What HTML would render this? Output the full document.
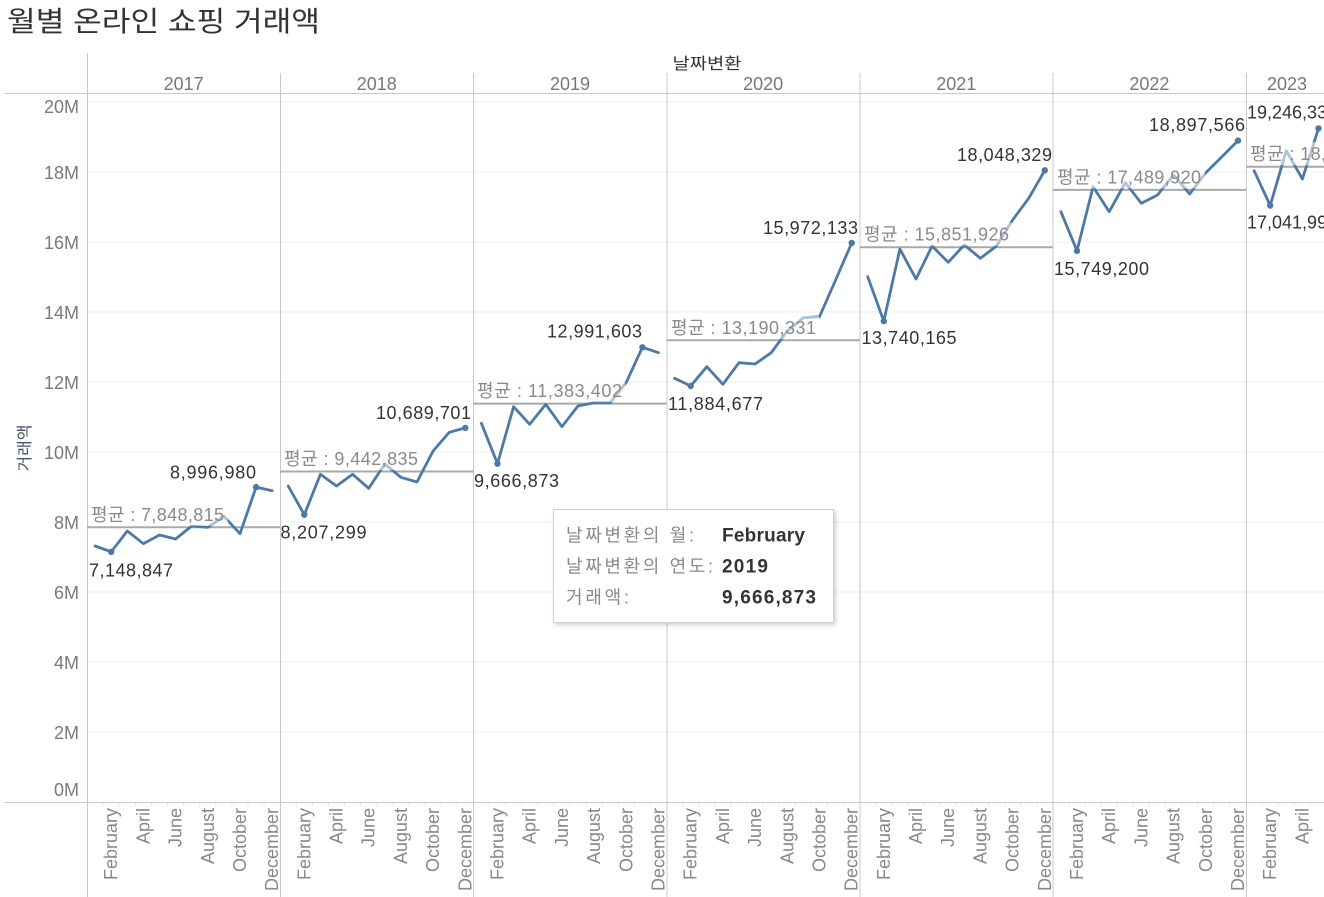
<!DOCTYPE html>
<html><head><meta charset="utf-8"><style>
html,body{margin:0;padding:0;background:#fff;}
svg{display:block;font-family:"Liberation Sans","Noto Sans CJK KR",sans-serif;}
</style></head><body>
<svg width="1324" height="897" viewBox="0 0 1324 897" xmlns="http://www.w3.org/2000/svg">
<defs>
<filter id="sh" x="-10%" y="-10%" width="130%" height="140%"><feDropShadow dx="2" dy="2" stdDeviation="2" flood-color="#000" flood-opacity="0.18"/></filter>
<clipPath id="plot"><rect x="87" y="94" width="1237" height="708"/></clipPath>
</defs>
<rect width="1324" height="897" fill="#fff"/>
<!-- title -->
<text x="7" y="31" font-size="28" fill="#333" textLength="313" lengthAdjust="spacingAndGlyphs">월별 온라인 쇼핑 거래액</text>
<text x="707" y="69" font-size="16" fill="#333" text-anchor="middle" textLength="69" lengthAdjust="spacingAndGlyphs">날짜변환</text>
<!-- gridlines -->
<g stroke="#efefef" stroke-width="1">
<line x1="87" x2="1324" y1="102" y2="102"/><line x1="87" x2="1324" y1="172" y2="172"/>
<line x1="87" x2="1324" y1="242" y2="242"/><line x1="87" x2="1324" y1="312" y2="312"/>
<line x1="87" x2="1324" y1="382" y2="382"/><line x1="87" x2="1324" y1="452" y2="452"/>
<line x1="87" x2="1324" y1="522" y2="522"/><line x1="87" x2="1324" y1="592" y2="592"/>
<line x1="87" x2="1324" y1="662" y2="662"/><line x1="87" x2="1324" y1="732" y2="732"/>
</g>
<!-- frame lines -->
<g stroke="#c8c8c8" stroke-width="1">
<line x1="4" x2="1324" y1="93.5" y2="93.5"/>
<line x1="4" x2="1324" y1="802.5" y2="802.5"/>
<line x1="87.5" x2="87.5" y1="53" y2="897"/>
<line x1="280.5" x2="280.5" y1="73" y2="897"/>
<line x1="473.5" x2="473.5" y1="73" y2="897"/>
<line x1="667" x2="667" y1="73" y2="897"/>
<line x1="860" x2="860" y1="73" y2="897"/>
<line x1="1053" x2="1053" y1="73" y2="897"/>
<line x1="1246.5" x2="1246.5" y1="73" y2="897"/>
</g>
<!-- small ticks -->
<g stroke="#e8e8e8" stroke-width="1">
<line x1="103.1" x2="103.1" y1="803" y2="807"/><line x1="119.2" x2="119.2" y1="803" y2="807"/><line x1="135.3" x2="135.3" y1="803" y2="807"/><line x1="151.4" x2="151.4" y1="803" y2="807"/><line x1="167.5" x2="167.5" y1="803" y2="807"/><line x1="183.6" x2="183.6" y1="803" y2="807"/><line x1="199.7" x2="199.7" y1="803" y2="807"/><line x1="215.8" x2="215.8" y1="803" y2="807"/><line x1="231.9" x2="231.9" y1="803" y2="807"/><line x1="248" x2="248" y1="803" y2="807"/><line x1="264.1" x2="264.1" y1="803" y2="807"/>
<line x1="296.3" x2="296.3" y1="803" y2="807"/><line x1="312.4" x2="312.4" y1="803" y2="807"/><line x1="328.5" x2="328.5" y1="803" y2="807"/><line x1="344.6" x2="344.6" y1="803" y2="807"/><line x1="360.7" x2="360.7" y1="803" y2="807"/><line x1="376.8" x2="376.8" y1="803" y2="807"/><line x1="392.9" x2="392.9" y1="803" y2="807"/><line x1="409" x2="409" y1="803" y2="807"/><line x1="425.1" x2="425.1" y1="803" y2="807"/><line x1="441.2" x2="441.2" y1="803" y2="807"/><line x1="457.3" x2="457.3" y1="803" y2="807"/>
<line x1="489.4" x2="489.4" y1="803" y2="807"/><line x1="505.5" x2="505.5" y1="803" y2="807"/><line x1="521.6" x2="521.6" y1="803" y2="807"/><line x1="537.7" x2="537.7" y1="803" y2="807"/><line x1="553.8" x2="553.8" y1="803" y2="807"/><line x1="569.9" x2="569.9" y1="803" y2="807"/><line x1="586" x2="586" y1="803" y2="807"/><line x1="602.1" x2="602.1" y1="803" y2="807"/><line x1="618.2" x2="618.2" y1="803" y2="807"/><line x1="634.3" x2="634.3" y1="803" y2="807"/><line x1="650.4" x2="650.4" y1="803" y2="807"/>
<line x1="682.6" x2="682.6" y1="803" y2="807"/><line x1="698.7" x2="698.7" y1="803" y2="807"/><line x1="714.8" x2="714.8" y1="803" y2="807"/><line x1="730.9" x2="730.9" y1="803" y2="807"/><line x1="747" x2="747" y1="803" y2="807"/><line x1="763.1" x2="763.1" y1="803" y2="807"/><line x1="779.2" x2="779.2" y1="803" y2="807"/><line x1="795.3" x2="795.3" y1="803" y2="807"/><line x1="811.4" x2="811.4" y1="803" y2="807"/><line x1="827.5" x2="827.5" y1="803" y2="807"/><line x1="843.6" x2="843.6" y1="803" y2="807"/>
<line x1="875.8" x2="875.8" y1="803" y2="807"/><line x1="891.9" x2="891.9" y1="803" y2="807"/><line x1="908" x2="908" y1="803" y2="807"/><line x1="924.1" x2="924.1" y1="803" y2="807"/><line x1="940.2" x2="940.2" y1="803" y2="807"/><line x1="956.3" x2="956.3" y1="803" y2="807"/><line x1="972.4" x2="972.4" y1="803" y2="807"/><line x1="988.5" x2="988.5" y1="803" y2="807"/><line x1="1004.6" x2="1004.6" y1="803" y2="807"/><line x1="1020.7" x2="1020.7" y1="803" y2="807"/><line x1="1036.8" x2="1036.8" y1="803" y2="807"/>
<line x1="1068.9" x2="1068.9" y1="803" y2="807"/><line x1="1085" x2="1085" y1="803" y2="807"/><line x1="1101.1" x2="1101.1" y1="803" y2="807"/><line x1="1117.2" x2="1117.2" y1="803" y2="807"/><line x1="1133.3" x2="1133.3" y1="803" y2="807"/><line x1="1149.4" x2="1149.4" y1="803" y2="807"/><line x1="1165.5" x2="1165.5" y1="803" y2="807"/><line x1="1181.6" x2="1181.6" y1="803" y2="807"/><line x1="1197.7" x2="1197.7" y1="803" y2="807"/><line x1="1213.8" x2="1213.8" y1="803" y2="807"/><line x1="1229.9" x2="1229.9" y1="803" y2="807"/>
<line x1="1262.1" x2="1262.1" y1="803" y2="807"/><line x1="1278.2" x2="1278.2" y1="803" y2="807"/><line x1="1294.3" x2="1294.3" y1="803" y2="807"/><line x1="1310.4" x2="1310.4" y1="803" y2="807"/>
</g>
<!-- y axis -->
<g font-size="18" fill="#7a7a7a" text-anchor="end">
<text x="79" y="113">20M</text><text x="79" y="179">18M</text><text x="79" y="249">16M</text>
<text x="79" y="319">14M</text><text x="79" y="389">12M</text><text x="79" y="459">10M</text>
<text x="79" y="529">8M</text><text x="79" y="599">6M</text><text x="79" y="669">4M</text>
<text x="79" y="739">2M</text><text x="79" y="796">0M</text>
</g>
<text transform="translate(30,448) rotate(-90)" font-size="16" fill="#44546a" text-anchor="middle" textLength="47" lengthAdjust="spacingAndGlyphs">거래액</text>
<!-- year headers -->
<g font-size="18" fill="#777" text-anchor="middle">
<text x="183.6" y="90">2017</text><text x="376.8" y="90">2018</text><text x="570" y="90">2019</text>
<text x="763.1" y="90">2020</text><text x="956.3" y="90">2021</text><text x="1149.4" y="90">2022</text>
<text x="1287" y="90">2023</text>
</g>
<!-- month labels -->
<g font-size="18" fill="#888" text-anchor="end">
<text transform="translate(117.2,808) rotate(-90)">February</text><text transform="translate(149.4,808) rotate(-90)">April</text><text transform="translate(181.6,808) rotate(-90)">June</text><text transform="translate(213.8,808) rotate(-90)">August</text><text transform="translate(246,808) rotate(-90)">October</text><text transform="translate(278.2,808) rotate(-90)">December</text>
<text transform="translate(310.3,808) rotate(-90)">February</text><text transform="translate(342.5,808) rotate(-90)">April</text><text transform="translate(374.7,808) rotate(-90)">June</text><text transform="translate(406.9,808) rotate(-90)">August</text><text transform="translate(439.1,808) rotate(-90)">October</text><text transform="translate(471.3,808) rotate(-90)">December</text>
<text transform="translate(503.5,808) rotate(-90)">February</text><text transform="translate(535.7,808) rotate(-90)">April</text><text transform="translate(567.9,808) rotate(-90)">June</text><text transform="translate(600.1,808) rotate(-90)">August</text><text transform="translate(632.3,808) rotate(-90)">October</text><text transform="translate(664.5,808) rotate(-90)">December</text>
<text transform="translate(696.7,808) rotate(-90)">February</text><text transform="translate(728.9,808) rotate(-90)">April</text><text transform="translate(761.1,808) rotate(-90)">June</text><text transform="translate(793.3,808) rotate(-90)">August</text><text transform="translate(825.5,808) rotate(-90)">October</text><text transform="translate(857.7,808) rotate(-90)">December</text>
<text transform="translate(889.8,808) rotate(-90)">February</text><text transform="translate(922,808) rotate(-90)">April</text><text transform="translate(954.2,808) rotate(-90)">June</text><text transform="translate(986.4,808) rotate(-90)">August</text><text transform="translate(1018.6,808) rotate(-90)">October</text><text transform="translate(1050.8,808) rotate(-90)">December</text>
<text transform="translate(1083,808) rotate(-90)">February</text><text transform="translate(1115.2,808) rotate(-90)">April</text><text transform="translate(1147.4,808) rotate(-90)">June</text><text transform="translate(1179.6,808) rotate(-90)">August</text><text transform="translate(1211.8,808) rotate(-90)">October</text><text transform="translate(1244,808) rotate(-90)">December</text>
<text transform="translate(1276.2,808) rotate(-90)">February</text><text transform="translate(1308.4,808) rotate(-90)">April</text>
</g>
<g clip-path="url(#plot)">
<!-- average lines -->
<g stroke="#a9a9a9" stroke-width="2">
<line x1="87" x2="280.2" y1="527.3" y2="527.3"/>
<line x1="280.2" x2="473.3" y1="471.5" y2="471.5"/>
<line x1="473.3" x2="666.5" y1="403.6" y2="403.6"/>
<line x1="666.5" x2="859.7" y1="340.3" y2="340.3"/>
<line x1="859.7" x2="1052.8" y1="247.2" y2="247.2"/>
<line x1="1052.8" x2="1246" y1="189.9" y2="189.9"/>
<line x1="1246" x2="1324" y1="166.7" y2="166.7"/>
</g>
<!-- data lines -->
<g fill="none" stroke="#4e79a7" stroke-width="2.8" stroke-linejoin="round" stroke-linecap="round">
<polyline points="95.1,546 111.2,551.8 127.3,531 143.4,543.7 159.5,535 175.6,539 191.7,526 207.8,527.3 223.9,516.3 240,533.7 256.1,487.1 272.2,490.7"/>
<polyline points="288.2,486 304.3,514.7 320.4,474.3 336.5,486 352.6,474.3 368.7,488.3 384.8,464 400.9,477.3 417,482 433.1,451 449.2,432.3 465.3,427.9"/>
<polyline points="481.4,423.3 497.5,463.7 513.6,406.7 529.7,424.3 545.8,404.3 561.9,426.7 578,406 594.1,402.7 610.2,402.7 626.3,382.3 642.4,347.3 658.5,352.7"/>
<polyline points="674.6,378.3 690.7,386 706.8,366.7 722.9,384.3 739,362.7 755.1,364 771.2,352.7 787.3,331 803.4,317.7 819.5,316.7 835.6,280 851.7,243"/>
<polyline points="867.7,276.7 883.8,321.1 899.9,249 916,279 932.1,246 948.2,262.3 964.3,245 980.4,258.3 996.5,246 1012.6,220 1028.7,198.3 1044.8,170.3"/>
<polyline points="1060.9,211.7 1077,250.8 1093.1,186.7 1109.2,211.7 1125.3,182.7 1141.4,203.3 1157.5,195 1173.6,175 1189.7,194 1205.8,172.7 1221.9,156.7 1238,140.6"/>
<polyline points="1254.1,170.7 1270.2,205.5 1286.3,150.7 1302.4,179 1318.5,128.4"/>
</g>
<g fill="#4e79a7">
<circle cx="111.2" cy="551.8" r="3.2"/><circle cx="256.1" cy="487.1" r="3.2"/>
<circle cx="304.3" cy="514.7" r="3.2"/><circle cx="465.3" cy="427.9" r="3.2"/>
<circle cx="497.5" cy="463.7" r="3.2"/><circle cx="642.4" cy="347.3" r="3.2"/>
<circle cx="690.7" cy="386" r="3.2"/><circle cx="851.7" cy="243" r="3.2"/>
<circle cx="883.8" cy="321.1" r="3.2"/><circle cx="1044.8" cy="170.3" r="3.2"/>
<circle cx="1077" cy="250.8" r="3.2"/><circle cx="1238" cy="140.6" r="3.2"/>
<circle cx="1270.2" cy="205.5" r="3.2"/><circle cx="1318.5" cy="128.4" r="3.2"/>
</g>
<!-- average label veils -->
<g fill="#fff" fill-opacity="0.55">
<rect x="89" y="502.8" width="139" height="23"/>
<rect x="282" y="447" width="139" height="23"/>
<rect x="475" y="379.1" width="150" height="23"/>
<rect x="669" y="315.8" width="150" height="23"/>
<rect x="862" y="222.7" width="150" height="23"/>
<rect x="1055" y="165.4" width="150" height="23"/>
<rect x="1248" y="142.2" width="150" height="23"/>
</g>
<g font-size="18" fill="#8a8a8a" lengthAdjust="spacingAndGlyphs">
<text x="91" y="520.8" textLength="133">평균 : 7,848,815</text>
<text x="284" y="465" textLength="134">평균 : 9,442,835</text>
<text x="477" y="397.1" textLength="145">평균 : 11,383,402</text>
<text x="671" y="333.8" textLength="145">평균 : 13,190,331</text>
<text x="864" y="240.7" textLength="145">평균 : 15,851,926</text>
<text x="1057" y="183.4" textLength="144">평균 : 17,489,920</text>
<text x="1250" y="160.2" textLength="144">평균 : 18,170,000</text>
</g>
</g>
<!-- data labels -->
<g font-size="18" fill="#333" lengthAdjust="spacingAndGlyphs">
<text x="89" y="576.5" textLength="84">7,148,847</text>
<text x="170" y="478.3" textLength="86">8,996,980</text>
<text x="280.5" y="538.3" textLength="86">8,207,299</text>
<text x="376" y="419" textLength="95">10,689,701</text>
<text x="474" y="487" textLength="85">9,666,873</text>
<text x="547" y="337.5" textLength="95">12,991,603</text>
<text x="668" y="410" textLength="95">11,884,677</text>
<text x="763" y="234" textLength="95">15,972,133</text>
<text x="861.5" y="344" textLength="95">13,740,165</text>
<text x="957" y="161" textLength="95">18,048,329</text>
<text x="1054" y="275" textLength="95">15,749,200</text>
<text x="1149" y="131" textLength="96">18,897,566</text>
<text x="1247" y="118.5">19,246,33</text>
<text x="1247" y="228.5">17,041,99</text>
</g>
<!-- tooltip -->
<rect x="553.5" y="509.5" width="280" height="113" fill="#fff" stroke="#d2d2d2" stroke-width="1" filter="url(#sh)"/>
<g font-size="18" fill="#8a8a8a" lengthAdjust="spacingAndGlyphs">
<text x="566" y="541.5" textLength="128">날짜변환의 월:</text>
<text x="566" y="572.5" textLength="147">날짜변환의 연도:</text>
<text x="566" y="603.5" textLength="63">거래액:</text>
</g>
<g font-size="19" fill="#333" font-weight="bold" lengthAdjust="spacingAndGlyphs">
<text x="722" y="541.5" textLength="83">February</text>
<text x="722" y="572.5" textLength="46">2019</text>
<text x="722" y="603.5" textLength="94">9,666,873</text>
</g>
</svg>
</body></html>
